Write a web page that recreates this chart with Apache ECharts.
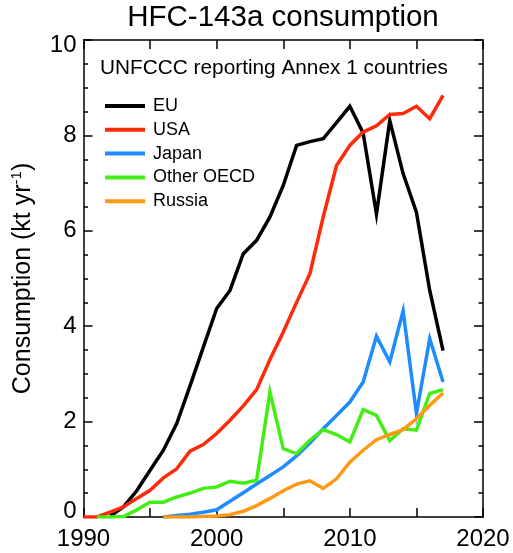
<!DOCTYPE html>
<html>
<head>
<meta charset="utf-8">
<script src="https://cdn.jsdelivr.net/npm/echarts@6/dist/echarts.min.js"></script>
<style>
html,body{margin:0;padding:0;background:#fff;}
#c{width:513px;height:553px;}
</style>
</head>
<body>
<div id="c"></div>
<script>
const years = [1990,1991,1992,1993,1994,1995,1996,1997,1998,1999,2000,2001,2002,2003,2004,2005,2006,2007,2008,2009,2010,2011,2012,2013,2014,2015,2016,2017];
const seriesNames = ['EU','USA','Japan','Other OECD','Russia'];
const eu =        [null,null,0.02,0.21,0.55,0.98,1.40,1.96,2.75,3.56,4.37,4.75,5.52,5.80,6.29,6.95,7.79,7.87,7.93,8.27,8.61,8.05,6.35,8.31,7.20,6.39,4.75,3.49];
const usa =       [0,0,0.10,0.21,0.39,0.56,0.82,1.01,1.38,1.52,1.75,2.03,2.33,2.67,3.30,3.88,4.50,5.10,6.29,7.37,7.79,8.07,8.20,8.44,8.46,8.61,8.35,8.84];
const japan =     [null,null,null,null,null,null,0.00,0.03,0.06,0.10,0.15,0.33,0.51,0.69,0.87,1.05,1.28,1.55,1.85,2.13,2.41,2.83,3.79,3.25,4.32,2.17,3.74,2.83];
const otherOecd = [null,0,0,0.01,0.15,0.31,0.31,0.42,0.50,0.60,0.63,0.75,0.71,0.77,2.62,1.43,1.33,1.61,1.83,1.73,1.57,2.25,2.13,1.60,1.85,1.82,2.59,2.67];
const russia =    [null,null,null,null,null,null,0,0,0,0.01,0.02,0.05,0.12,0.24,0.39,0.55,0.69,0.76,0.60,0.80,1.15,1.40,1.62,1.73,1.83,2.06,2.34,2.60];
const xTickLabels = ['1990','2000','2010','2020'];
const yTickLabels = ['0','2','4','6','8','10'];
const colors = ['#000000','#ff2a0a','#1e8cff','#44ee14','#ff9914'];

const allValues = [eu, usa, japan, otherOecd, russia];
const FONT = 'Liberation Sans, Arial, Helvetica, sans-serif';

const chart = echarts.init(document.getElementById('c'), null, {renderer:'canvas'});

const gridBox = {left:83.5, right:30, top:40, bottom:36};

function xAxisDef(pos, showLabel){
  return {
    type:'value', position:pos, min:1990, max:2020, interval:5,
    axisLine:{show:true, onZero:false, lineStyle:{color:'#000', width:1.5}},
    axisTick:{show:true, inside:true, length:9, lineStyle:{color:'#000', width:1.5}},
    splitLine:{show:false},
    axisLabel:{show:showLabel, color:'#000', fontFamily:FONT, fontSize:24, margin:10,
      formatter:function(v){ const s=String(v); return xTickLabels.indexOf(s)>=0 ? s : ''; }}
  };
}
function yAxisDef(pos, showLabel){
  const a = {
    type:'value', position:pos, min:0, max:10, interval:2,
    axisLine:{show:true, onZero:false, lineStyle:{color:'#000', width:1.5}},
    axisTick:{show:true, inside:true, length:9, lineStyle:{color:'#000', width:1.5}},
    minorTick:{show:true, splitNumber:4, length:4.5, lineStyle:{color:'#000', width:1.5}},
    splitLine:{show:false}, minorSplitLine:{show:false},
    axisLabel:{show:showLabel, color:'#000', fontFamily:FONT, fontSize:24, margin:7,
      formatter:function(v){
        const s=String(v);
        if (yTickLabels.indexOf(s)<0) return '';
        if (s==='0') return '{lo|0}';
        if (s==='10') return '{hi|10}';
        return s;
      },
      rich:{
        lo:{fontFamily:FONT, fontSize:24, color:'#000', padding:[0,0,11,0]},
        hi:{fontFamily:FONT, fontSize:24, color:'#000', padding:[10,0,0,0]}
      }
    }
  };
  if (showLabel) {
    a.name = '{m|Consumption (kt yr}{s|-1}{m|)}';
    a.nameLocation = 'middle';
    a.nameGap = 46;
    a.nameRotate = 90;
    a.nameTextStyle = {
      color:'#000',
      rich:{
        m:{fontFamily:FONT, fontSize:25, color:'#000'},
        s:{fontFamily:FONT, fontSize:15, color:'#000', padding:[0,0,13,0]}
      }
    };
  }
  return a;
}

const series = seriesNames.map(function(name, i){
  return {
    name:name, type:'line', xAxisIndex:0, yAxisIndex:0,
    data: years.map(function(y, k){ return [y, allValues[i][k]]; }),
    showSymbol:false, symbol:'none', connectNulls:false,
    lineStyle:{color:colors[i], width:3.5, join:'miter'},
    itemStyle:{color:colors[i]},
    emphasis:{disabled:true}, silent:true, animation:false
  };
});

chart.setOption({
  animation:false,
  backgroundColor:'#ffffff',
  color:colors,
  grid:gridBox,
  xAxis:[xAxisDef('bottom', true), xAxisDef('top', false)],
  yAxis:[yAxisDef('left', true), yAxisDef('right', false)],
  legend:{
    show:true, orient:'vertical', left:100, top:92,
    data:seriesNames.map(function(n){ return {name:n, icon:'rect'}; }),
    itemWidth:40, itemHeight:4, itemGap:5.8,
    selectedMode:false,
    textStyle:{color:'#000', fontFamily:FONT, fontSize:18, lineHeight:18, padding:[0,0,0,3]}
  },
  graphic:[
    {type:'text', x:283, y:18, silent:true,
      style:{text:'HFC-143a consumption', fill:'#000', font:'29.5px ' + FONT, textAlign:'center', textVerticalAlign:'middle'}},
    {type:'text', x:100, y:68, silent:true,
      style:{text:'UNFCCC reporting Annex 1 countries', fill:'#000', font:'20.8px ' + FONT, textAlign:'left', textVerticalAlign:'middle'}}
  ],
  series:series
});
</script>
</body>
</html>
